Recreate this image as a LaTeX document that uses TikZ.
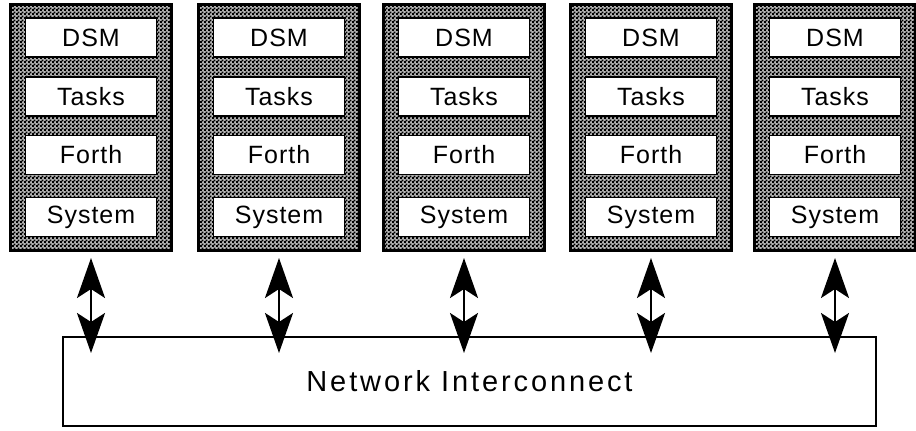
\documentclass[tikz,border=0pt]{standalone}
\usepackage{fontspec}
\setmainfont{Liberation Sans}
\newfontfamily\layerfont[LetterSpace=4]{Liberation Sans}
\newfontfamily\busfont[LetterSpace=10]{Liberation Sans}
\usetikzlibrary{arrows.meta,patterns.meta}
\tikzset{bighead/.tip={Stealth[length=40pt, width=28pt, inset=9pt]}}

% fine checker stipple for the processor frames
\pgfdeclarepatternformonly{stipple}{\pgfqpoint{0pt}{0pt}}{\pgfqpoint{4pt}{4pt}}{\pgfqpoint{4pt}{4pt}}{%
  \pgfpathrectangle{\pgfqpoint{0pt}{0pt}}{\pgfqpoint{2.2pt}{2.2pt}}%
  \pgfpathrectangle{\pgfqpoint{2pt}{2pt}}{\pgfqpoint{2.2pt}{2.2pt}}%
  \pgfusepath{fill}}

\begin{document}
\begin{tikzpicture}[x=1pt,y=1pt,
  frame/.style={draw=black, line width=3pt, preaction={fill=black!30},
    pattern=stipple, minimum width=161pt, minimum height=246pt, inner sep=0pt},
  layer/.style={draw=black, line width=1.8pt, fill=white,
    minimum width=131pt, minimum height=39pt, inner sep=0pt,
    font=\layerfont\fontsize{25}{25}\selectfont},
  bus/.style={draw=black, line width=2pt, fill=white,
    minimum width=813pt, minimum height=89pt, inner sep=0pt,
    font=\busfont\fontsize{29}{29}\selectfont},
  link/.style={line width=2.4pt, {bighead}-{bighead}}
]
\useasboundingbox (0,0) rectangle (916,431);

% shared interconnect
\node[bus] (net) at (469.5,49.5) {Network Interconnect};

% one processor node per column, with its software layers
\foreach \i/\x in {1/91,2/279,3/464,4/651,5/835}{
  \node[frame] (col\i) at (\x,303) {};
  \node[layer] (dsm\i)    at (\x,393.5) {DSM};
  \node[layer] (tasks\i)  at (\x,334.5) {Tasks};
  \node[layer] (forth\i)  at (\x,276)   {Forth};
  \node[layer] (system\i) at (\x,214)   {System};
  \draw[link] ([yshift=-5.5pt]col\i.south) -- ([yshift=-17pt]col\i.south |- net.north);
}
\end{tikzpicture}
\end{document}
